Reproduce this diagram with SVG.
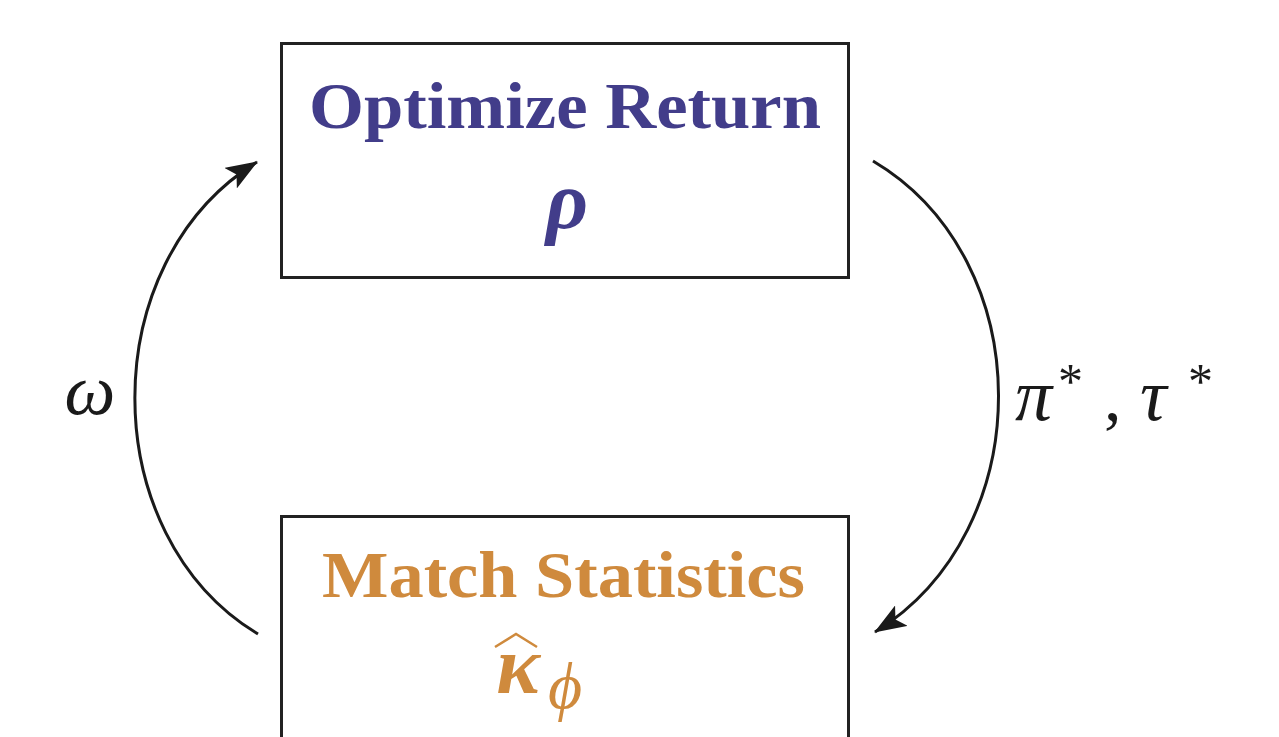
<svg xmlns="http://www.w3.org/2000/svg" width="1279" height="737" viewBox="0 0 1279 737">
<style>
.box{fill:#fff;stroke:#222;stroke-width:3}
.title{font-family:"Liberation Serif",serif;font-weight:bold;font-size:66px;text-anchor:middle}
.math{font-family:"Liberation Serif",serif;font-style:italic}
.purple{fill:#423d8a}
.orange{fill:#cf8a3d}
.conn{fill:none;stroke:#1a1a1a;stroke-width:3}
.lbl{fill:#1a1a1a}
</style>
<defs>
<marker id="arr" viewBox="0 0 32 24" refX="31" refY="12" markerWidth="32" markerHeight="24" markerUnits="userSpaceOnUse" orient="auto">
<path d="M0,0 L32,12 L0,24 L7,12 Z" fill="#1a1a1a"/>
</marker>
</defs>
<rect width="1279" height="737" fill="#fff"/>
<g id="node-optimize">
<rect class="box" x="281.5" y="43.5" width="567" height="234"/>
<text class="title purple" x="565" y="128" textLength="512" lengthAdjust="spacingAndGlyphs">Optimize Return</text>
<text class="math purple" x="567" y="228" font-size="82" font-weight="bold" text-anchor="middle">ρ</text>
</g>
<g id="node-match">
<rect class="box" x="281.5" y="516.5" width="567" height="240"/>
<text class="title orange" x="563.5" y="597" textLength="483" lengthAdjust="spacingAndGlyphs">Match Statistics</text>
<text class="math orange" x="518" y="693" font-size="82" font-weight="bold" text-anchor="middle">κ</text>
<path d="M495,647 L516,634 L537,647" fill="none" stroke="#cf8a3d" stroke-width="2.5"/>
<text class="math orange" x="565" y="708" font-size="66" text-anchor="middle">ϕ</text>
</g>
<g id="connectors">
<path class="conn" d="M258,634 C94,535 94,262 257,162" marker-end="url(#arr)"/>
<path class="conn" d="M873,161 C1040,260 1040,530 875,632" marker-end="url(#arr)"/>
<text class="math lbl" x="90" y="414" font-size="72" text-anchor="middle">ω</text>
<text class="math lbl" x="1015" y="420" font-size="74">π</text>
<text class="lbl" x="1058" y="398" font-size="50" font-family="Liberation Serif,serif">*</text>
<text class="lbl" x="1104" y="420" font-size="70" font-family="Liberation Serif,serif">,</text>
<text class="math lbl" x="1140" y="420" font-size="74">τ</text>
<text class="lbl" x="1188" y="398" font-size="50" font-family="Liberation Serif,serif">*</text>
</g>
</svg>
